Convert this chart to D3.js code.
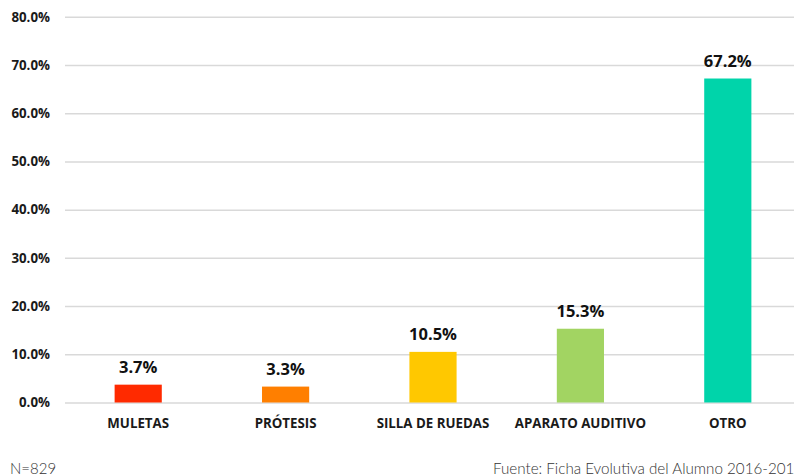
<!DOCTYPE html>
<html><head><meta charset="utf-8">
<script src="https://cdn.jsdelivr.net/npm/d3@7"></script>
<style>body{margin:0;background:#fff}svg{display:block}</style>
</head><body>
<svg id="c" width="794" height="474"></svg>
<script>
const categories = ["MULETAS","PRÓTESIS","SILLA DE RUEDAS","APARATO AUDITIVO","OTRO"];
const values = [3.7, 3.3, 10.5, 15.3, 67.2];
const colors = ["#ff2a00","#ff7f00","#ffc800","#a2d462","#00d4aa"];
const yTicks = [0,10,20,30,40,50,60,70,80];
const note = "N=829";
const source = "Fuente: Ficha Evolutiva del Alumno 2016-2017";

const svg = d3.select("#c");
const x = d3.scaleBand().domain(categories).range([64.5, 801.5]).paddingInner(0.68).paddingOuter(0.34);
const y = d3.scaleLinear().domain([0, 80]).range([402.5, 16.8]);
const font = "'Open Sans', sans-serif";

const yAxis = svg.append("g").attr("transform","translate(65,0)")
  .call(d3.axisLeft(y).tickValues(yTicks).tickFormat(d => d.toFixed(1) + "%").tickSize(-737).tickPadding(15));
yAxis.select(".domain").remove();
yAxis.selectAll("line").attr("stroke","#d9d9d9").attr("stroke-width",1.5);
yAxis.selectAll("text").attr("font-family",font).attr("font-weight","700").attr("font-size","13.3px").attr("fill","#1a1a1a");

svg.append("g").selectAll("rect").data(values).join("rect")
  .attr("x",(d,i)=>x(categories[i])).attr("width",x.bandwidth())
  .attr("y",d=>y(d)).attr("height",d=>y(0)-y(d))
  .attr("fill",(d,i)=>colors[i]);

svg.append("g").selectAll("text").data(values).join("text")
  .attr("x",(d,i)=>x(categories[i])+x.bandwidth()/2).attr("y",d=>y(d)-12)
  .attr("text-anchor","middle").attr("font-family",font).attr("font-weight","700")
  .attr("font-size","16.5px").attr("fill","#111").text(d=>d.toFixed(1)+"%");

const xAxis = svg.append("g").attr("transform","translate(0,402.5)")
  .call(d3.axisBottom(x).tickSize(0).tickPadding(16));
xAxis.select(".domain").remove();
xAxis.selectAll("text").attr("font-family",font).attr("font-weight","700").attr("font-size","13.3px").attr("fill","#1a1a1a");

svg.append("text").attr("x",10).attr("y",474).attr("font-family","Lato, sans-serif").attr("font-weight","300")
  .attr("font-size","15px").attr("fill","#333").text(note);
svg.append("text").attr("x",493).attr("y",474).attr("font-family","Lato, sans-serif").attr("font-weight","300")
  .attr("font-size","15.2px").attr("fill","#333").text(source);
</script>
</body></html>
